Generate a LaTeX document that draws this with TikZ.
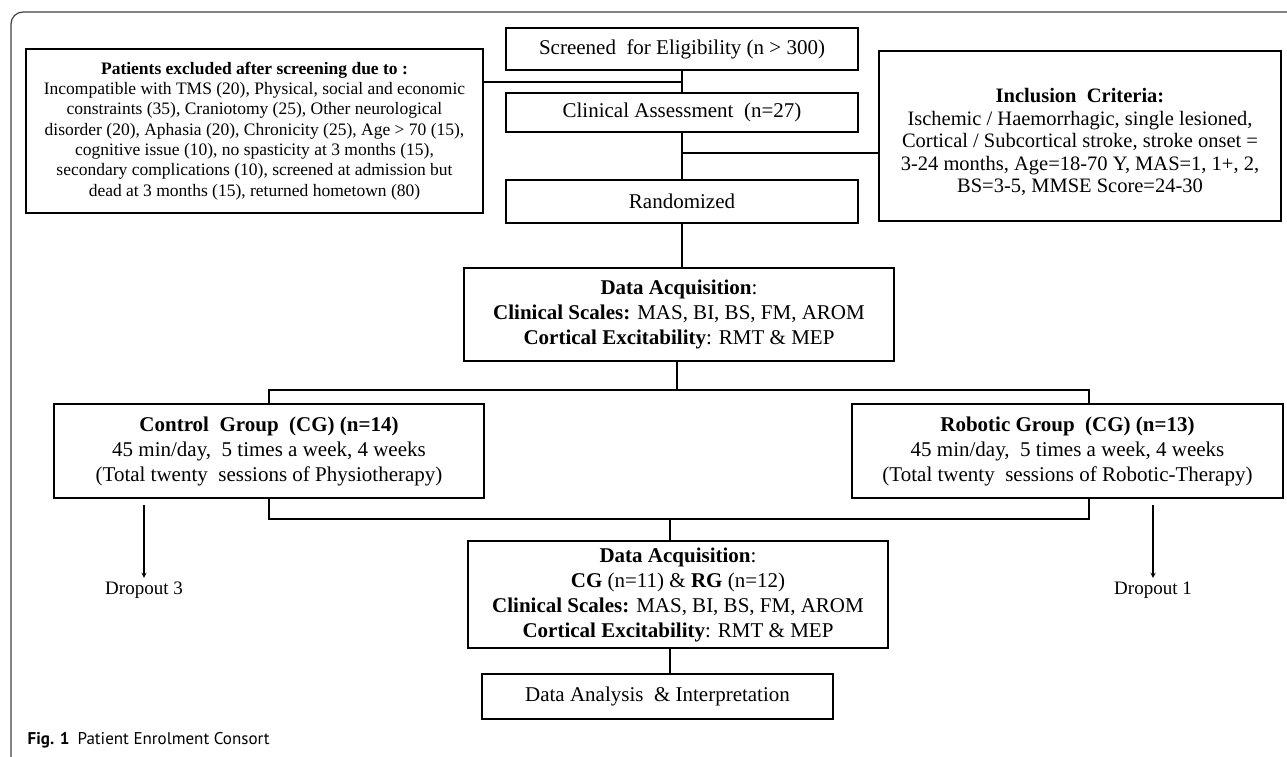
\documentclass[tikz,border=0pt]{standalone}
\usepackage{fontspec}
\setmainfont{Liberation Serif}
\newfontfamily\capfont{PT Sans}
\usetikzlibrary{positioning}

\begin{document}
\begin{tikzpicture}[x=1pt, y=-1pt, >=stealth, thick,
  flow box/.style={draw, line width=2.8pt, align=center, inner sep=2pt, font=\fontsize{21}{25}\selectfont},
  small box/.style={flow box, font=\fontsize{17.5}{20.3}\selectfont},
  link/.style={line width=2.8pt},
  drop arrow/.style={->, line width=1.3pt},
  drop text/.style={font=\fontsize{19}{22}\selectfont}]

  \useasboundingbox (0,0) rectangle (1287,757);
  % Outer frame
  \draw[black!75, line width=1.2pt, rounded corners=12pt] (1300,12) -- (11,12) -- (11,775);

  % Define nodes
  \node[flow box, minimum width=352pt, minimum height=42pt] (screen) at (682,49) {Screened\ \ for Eligibility\ (n > 300)};
  \node[flow box, minimum width=352pt, minimum height=39pt] (clin) at (682,112.5) {Clinical Assessment\ \ (n=27)};
  \node[flow box, minimum width=352pt, minimum height=43pt] (rand) at (682,201.5) {Randomized};
  \node[small box, minimum width=457pt, minimum height=164pt] (excl) at (254.5,131) {\textbf{Patients excluded after screening due to :}\\
    Incompatible with TMS (20), Physical, social and economic\\
    constraints (35), Craniotomy (25), Other neurological\\
    disorder (20), Aphasia (20), Chronicity (25), Age > 70 (15),\\
    cognitive issue (10), no spasticity at 3 months (15),\\
    secondary complications (10), screened at admission but\\
    dead at 3 months (15), returned hometown (80)};
  \node[flow box, minimum width=402pt, minimum height=170pt, font=\fontsize{20.5}{22.5}\selectfont] (incl) at (1080,136) {\rule{0pt}{27pt}\textbf{Inclusion\ \ Criteria:}\\
    Ischemic\ / Haemorrhagic, single lesioned,\\
    Cortical / Subcortical stroke, stroke onset =\\
    3-24 months, Age=18-70 Y, MAS=1, 1+, 2,\\
    BS=3-5, MMSE Score=24-30};
  \node[flow box, minimum width=430pt, minimum height=93pt] (acq1) at (679,314.5) {\textbf{Data Acquisition}:\\
    \textbf{Clinical Scales:} MAS, BI, BS, FM, AROM\\
    \textbf{Cortical Excitability}: RMT \& MEP};
  \node[flow box, minimum width=430pt, minimum height=94pt] (ctrl) at (269,451) {\textbf{Control\ \ Group\ \ (CG) (n=14)}\\
    45 min/day,\ \ 5 times a week,\ 4 weeks\\
    (Total twenty\ \ sessions of Physiotherapy)};
  \node[flow box, minimum width=431pt, minimum height=94pt] (robo) at (1067.5,451) {\textbf{Robotic Group\ \ (CG) (n=13)}\\
    45 min/day,\ \ 5 times a week,\ 4 weeks\\
    (Total twenty\ \ sessions of Robotic-Therapy)};
  \node[flow box, minimum width=420pt, minimum height=107pt] (acq2) at (678,594.5) {\textbf{Data Acquisition}:\\
    \textbf{CG} (n=11) \& \textbf{RG} (n=12)\\
    \textbf{Clinical Scales:} MAS, BI, BS, FM, AROM\\
    \textbf{Cortical Excitability}: RMT \& MEP};
  \node[flow box, minimum width=351pt, minimum height=45pt] (anal) at (657.5,696.5) {Data Analysis\ \ \& Interpretation};
  \node[drop text] (drop3) at (144,590) {Dropout 3};
  \node[drop text] (drop1) at (1153,590) {Dropout 1};
  \node[anchor=west, font=\capfont\fontsize{17}{20}\selectfont] (caption) at (24,740) {\textbf{Fig. 1}\hspace{8pt}Patient Enrolment Consort};

  % Joints of the connectors
  \coordinate (exclJoin) at (682,82);
  \coordinate (inclJoin) at (682,153);
  \coordinate (splitTop) at (677,390);
  \coordinate (roboTap) at (1089,390);
  \coordinate (mergeBot) at (670,519);

  % Define connectors
  \draw[link] (screen.south) -- (clin.north);
  \draw[link] (excl.east |- exclJoin) -- (exclJoin);
  \draw[link] (clin.south) -- (rand.north);
  \draw[link] (inclJoin) -- (incl.west |- inclJoin);
  \draw[link] (rand.south) -- (rand.south |- acq1.north);
  \draw[link] (acq1.south -| splitTop) -- (splitTop);
  \draw[link] (ctrl.north) -- (ctrl.north |- splitTop) -- (roboTap) -- (robo.north -| roboTap);
  \draw[link] (ctrl.south) -- (ctrl.south |- mergeBot) -- (mergeBot -| roboTap) -- (robo.south -| roboTap);
  \draw[link] (mergeBot) -- (mergeBot |- acq2.north);
  \draw[link] (acq2.south -| mergeBot) -- (anal.north -| mergeBot);

  % Dropouts
  \draw[drop arrow] ([yshift=-6pt]ctrl.south -| drop3) -- (drop3.north);
  \draw[drop arrow] ([yshift=-6pt]robo.south -| drop1) -- (drop1.north);
\end{tikzpicture}
\end{document}
